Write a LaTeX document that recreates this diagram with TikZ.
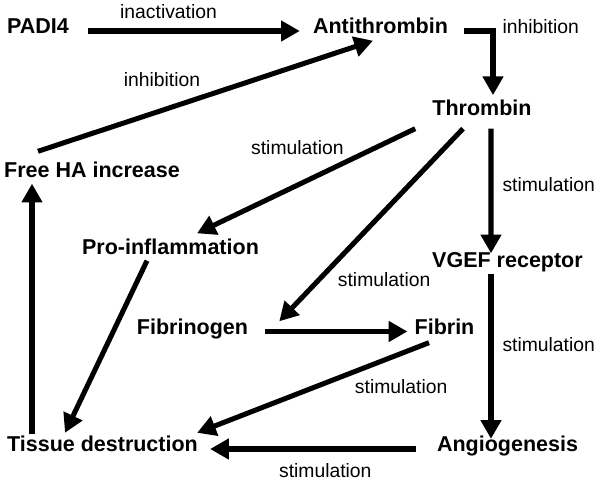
\documentclass[tikz,border=0pt]{standalone}
\usepackage{fontspec}
\setmainfont{Liberation Sans}
\usetikzlibrary{arrows.meta,positioning}

\begin{document}
\begin{tikzpicture}[
    factor/.style={inner sep=0pt, text height=0.72em, text depth=0.21em, font=\fontsize{18.35}{22}\selectfont\bfseries},
    effect/.style={inner sep=0pt, font=\fontsize{16.5}{20}\selectfont},
    arrow/.style={-{Triangle[length=16pt,width=17pt]}, line width=4.3pt}
]
\useasboundingbox (0,0) rectangle (18,14.4);

% Factors
\node[factor] (padi) at (1.14,13.47) {PADI4};
\node[factor] (anti) at (11.415,13.47) {Antithrombin};
\node[factor] (thr) at (14.46,11.025) {Thrombin};
\node[factor] (freeha) at (2.76,9.165) {Free HA increase};
\node[factor] (proinf) at (5.115,6.855) {Pro-inflammation};
\node[factor] (vgef) at (15.225,6.465) {VGEF receptor};
\node[factor] (fgen) at (5.775,4.455) {Fibrinogen};
\node[factor] (fib) at (13.335,4.455) {Fibrin};
\node[factor] (tissue) at (3.075,0.93) {Tissue destruction};
\node[factor] (angio) at (15.225,0.93) {Angiogenesis};

% Top row
\draw[arrow] ([xshift=0.57cm]padi.east) -- node[effect, pos=0.38, above=0.3cm] (linact) {inactivation} ([xshift=-0.39cm]anti.west);
\draw[arrow] ([xshift=0.48cm]anti.east) -| node[effect, pos=0.5, anchor=west, xshift=0.21cm, yshift=0.14cm] (linhib1) {inhibition} ([xshift=0.33cm,yshift=0.35cm]thr.north);
\draw[arrow] ([xshift=-1.62cm,yshift=0.525cm]freeha.north) -- node[effect, pos=0.37, above=0.65cm] (linhib2) {inhibition} ([xshift=-0.225cm,yshift=-0.12cm]anti.south);

% From thrombin
\draw[arrow] ([xshift=-0.51cm,yshift=-0.315cm]thr.south west) -- node[effect, pos=0.54, above=0.83cm] (lstim1) {stimulation} ([xshift=0.795cm,yshift=0.375cm]proinf.north);
\draw[arrow] ([xshift=0.27cm,yshift=-0.315cm]thr.south) -- node[effect, pos=0.45, right=0.27cm] (lstim2) {stimulation} ([xshift=-0.495cm,yshift=0.165cm]vgef.north);
\draw[arrow] ([xshift=-0.57cm,yshift=-0.315cm]thr.south) -- node[effect, pos=0.785, right=0.5cm] (lstim3) {stimulation} ([xshift=0.93cm,yshift=0.135cm]fgen.north east);

% Towards tissue destruction
\draw[arrow] ([xshift=-0.705cm,yshift=-0.105cm]proinf.south) -- ([xshift=-1.125cm,yshift=0.315cm]tissue.north);
\draw[arrow] ([xshift=-2.115cm,yshift=0.285cm]tissue.north) -- ([xshift=-1.8cm,yshift=-0.105cm]freeha.south);
\draw[arrow] ([xshift=0.51cm]fgen.east) -- ([xshift=-0.21cm]fib.west);
\draw[arrow] ([xshift=-0.495cm,yshift=-0.105cm]vgef.south) -- node[effect, pos=0.43, right=0.27cm] (lstim4) {stimulation} ([xshift=-0.495cm,yshift=0.135cm]angio.north);
\draw[arrow] ([xshift=-0.465cm,yshift=-0.165cm]fib.south) -- node[effect, pos=0.12, below=0.7cm] (lstim5) {stimulation} ([xshift=-0.03cm,yshift=0.315cm]tissue.north east);
\draw[arrow] ([xshift=-0.63cm]angio.west) -- node[effect, pos=0.44, below=0.36cm] (lstim6) {stimulation} ([xshift=0.36cm]tissue.east);

\end{tikzpicture}
\end{document}
